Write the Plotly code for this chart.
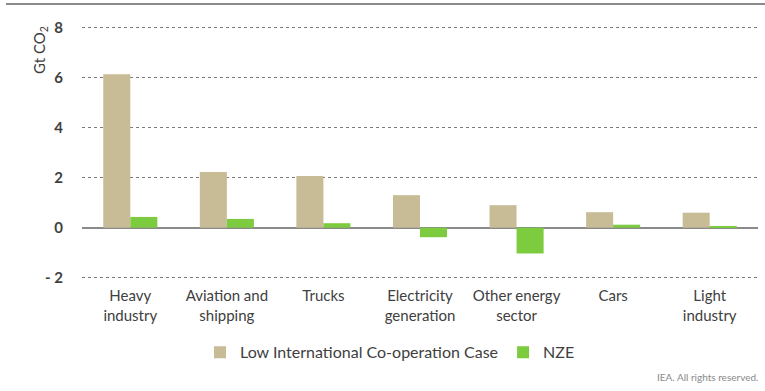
import plotly.graph_objects as go

categories = ["Heavy<br>industry", "Aviation and<br>shipping", "Trucks", "Electricity<br>generation",
              "Other energy<br>sector", "Cars", "Light<br>industry"]
low_coop = [6.13, 2.23, 2.07, 1.30, 0.90, 0.62, 0.60]
nze = [0.43, 0.35, 0.18, -0.38, -1.03, 0.12, 0.07]
y_ticks = [-2, 0, 2, 4, 6, 8]
y_tick_labels = ["- 2", "0", "2", "4", "6", "8"]

W, H = 765, 391
YMIN, YMAX = -2.05, 8.1
Y0_PX, UNIT_PX = 227.5, 25.0
L, R = 82, 7
T = Y0_PX - YMAX * UNIT_PX
B = H - (Y0_PX - YMIN * UNIT_PX)
pw, ph = W - L - R, H - T - B

def px_x(x):
    return (x - L) / pw

def px_y(y):
    return (H - B - y) / ph

font = "Lato, 'Open Sans', sans-serif"
fig = go.Figure()
fig.add_trace(go.Bar(x=categories, y=low_coop, name="Low International Co-operation Case",
                     marker=dict(color="#C8BC97", line=dict(width=0))))
fig.add_trace(go.Bar(x=categories, y=nze, name="NZE",
                     marker=dict(color="#7DCB3F", line=dict(width=0))))

fig.update_layout(
    width=W, height=H,
    margin=dict(l=L, r=R, t=T, b=B, autoexpand=False),
    plot_bgcolor="white", paper_bgcolor="white",
    barmode="group", bargap=0.44, bargroupgap=0,
    font=dict(family=font, size=15, color="#404040"),
    showlegend=True,
    legend=dict(orientation="h", x=px_x(390), xanchor="center", y=px_y(352), yanchor="middle",
                font=dict(size=16, color="#404040"), itemwidth=30, traceorder="normal",
                entrywidth=0),
    xaxis=dict(showgrid=False, showline=False, ticks="", tickfont=dict(size=15, color="#404040"),
               ticklabelstandoff=6),
    yaxis=dict(range=[YMIN, YMAX], tickvals=y_ticks, ticktext=y_tick_labels,
               showgrid=True, gridcolor="#7a7a7a", griddash="dot", gridwidth=1.2,
               zeroline=True, zerolinecolor="#8a8a8a", zerolinewidth=1.5,
               showline=False, ticks="", ticklabelstandoff=18,
               tickfont=dict(size=15, color="#404040", weight="bold")),
    annotations=[
        dict(text="Gt CO<sub>2</sub>", xref="paper", yref="paper", x=px_x(40), y=px_y(50),
             textangle=-90, showarrow=False, font=dict(size=15, color="#404040"),
             xanchor="center", yanchor="middle"),
        dict(text="IEA. All rights reserved.", xref="paper", yref="paper", x=px_x(760), y=px_y(377),
             showarrow=False, font=dict(size=10, color="#8a8a8a"), xanchor="right", yanchor="middle"),
    ],
    shapes=[
        dict(type="line", xref="paper", yref="paper", x0=px_x(6), x1=px_x(765), y0=px_y(4), y1=px_y(4),
             line=dict(color="#8a8a8a", width=2), layer="above"),
    ],
)

fig.write_html("out.html", config={"displayModeBar": False},
               post_script="document.body.style.margin='0';")
